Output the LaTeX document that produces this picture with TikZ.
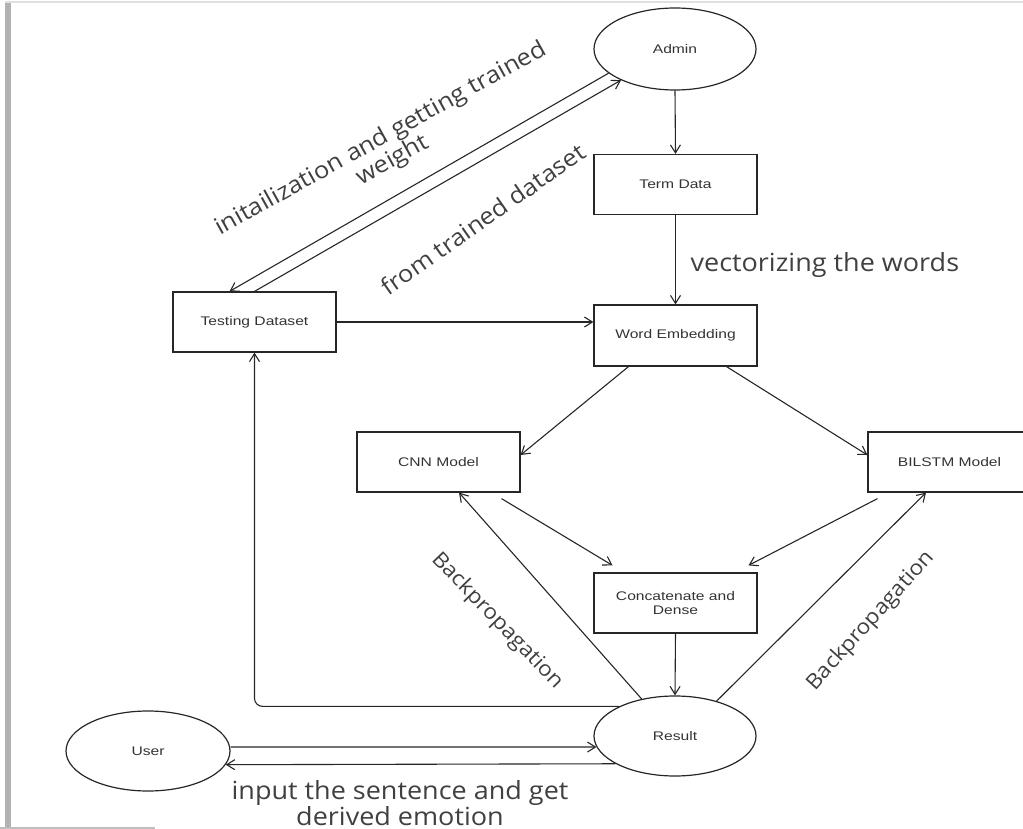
\documentclass[tikz,border=0pt]{standalone}
\usepackage{fontspec}
\setmainfont[FakeStretch=1.25]{Liberation Sans}
\newfontfamily\labelfont[FakeStretch=1.08]{Open Sans}
\usetikzlibrary{arrows.meta,shapes.geometric,calc}
\begin{document}
\begin{tikzpicture}[x=1pt,y=-1pt,
  line width=1.2pt,
  every node/.style={text=black!80},
  boxnode/.style={draw=black!85,rectangle,minimum width=163pt,minimum height=60pt,inner sep=0pt,font=\fontsize{12.5}{14}\selectfont,align=center},
  ellnode/.style={draw=black!85,ellipse,minimum width=162pt,minimum height=82pt,inner sep=0pt,font=\fontsize{12.5}{14}\selectfont},
  conn/.style={draw=black!85,line width=1.1pt,-{Straight Barb[length=8pt,width=10pt,line width=1.1pt]}},
  lbl/.style={font=\labelfont\fontsize{25}{21}\selectfont,text=black!75,align=center,inner sep=0pt},
  rotlbl/.style={lbl,font=\labelfont\fontsize{23.5}{22}\selectfont},
  bplbl/.style={lbl,font=\labelfont\fontsize{21}{22}\selectfont}
]
\useasboundingbox (0,0) rectangle (1023,829);
% screenshot frame
\fill[black!30] (5,2) rectangle (11,829);
\draw[black!12,line width=1.5pt] (5,2) -- (1023,2);
\draw[black!25,line width=2pt] (0,828) -- (155,828);

% nodes
\node[ellnode] (admin) at (675,49) {Admin};
\node[boxnode] (term) at (675.5,184.5) {Term Data};
\node[boxnode] (testing) at (254.5,322) {Testing Dataset};
\node[boxnode,minimum height=61pt] (word) at (675.5,335.5) {Word Embedding};
\node[boxnode] (cnn) at (438.5,462) {CNN Model};
\node[boxnode] (bilstm) at (949.5,462) {BILSTM Model};
\node[boxnode] (concat) at (675.5,603) {Concatenate and\\Dense};
\node[ellnode,minimum height=80pt] (result) at (675,736) {Result};
\node[ellnode,minimum width=164pt,minimum height=80pt] (user) at (148,751) {User};

% connectors
\draw[conn] (admin.south) -- (term.north);
\draw[conn] (term.south) -- (word.north);
\draw[conn] (testing.east) -- (testing.east -| word.west);
\draw[conn] (admin.200) -- ([xshift=-25pt]testing.north);
\draw[conn] (testing.north) -- (admin.210);
\draw[conn] ([xshift=-47pt]word.south) -- ([yshift=7pt]cnn.east);
\draw[conn] ([xshift=51pt]word.south) -- ([yshift=7pt]bilstm.west);
\draw[conn] ([xshift=63pt,yshift=-6pt]cnn.south) -- ([xshift=-63pt,yshift=7pt]concat.north);
\draw[conn] ([xshift=-72pt,yshift=-6pt]bilstm.south) -- ([xshift=73pt,yshift=7pt]concat.north);
\draw[conn] (concat.south) -- (result.north);
\draw[conn] (result.132) -- ([xshift=20.5pt]cnn.south);
\draw[conn] (result.40.6) -- ([xshift=-23.5pt]bilstm.south);
\draw[conn,rounded corners=8pt] (result.152) -| (testing.south);
\draw[conn] ([yshift=4pt]user.east) -- (result.188);
\draw[conn] (result.205.4) -- (user.-10);

% labels
\node[lbl,anchor=west] (lvec) at (690,265) {vectorizing the words};
\node[rotlbl,rotate=29] (linit) at (387,150) {initailization and getting trained\\weight};
\node[rotlbl,rotate=35] (lfrom) at (483,219) {from trained dataset};
\node[bplbl,rotate=-46] (lbp1) at (497,621) {Backpropagation};
\node[bplbl,rotate=48] (lbp2) at (871,621) {Backpropagation};
\node[lbl] (linput) at (400,803) {input the sentence and get\\derived emotion};
\end{tikzpicture}
\end{document}
